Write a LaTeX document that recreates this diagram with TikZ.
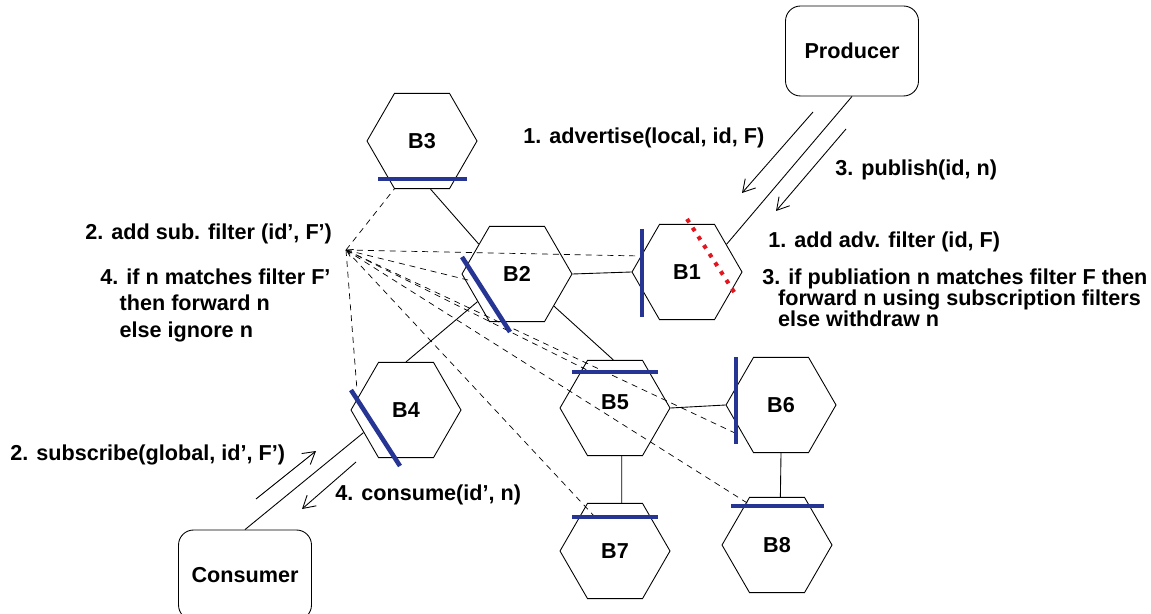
\documentclass[tikz,border=0pt]{standalone}
\usepackage{fontspec}
\setmainfont{Liberation Sans}
\usetikzlibrary{shapes.geometric,arrows.meta}
\definecolor{barblue}{RGB}{38,52,148}
\definecolor{advred}{RGB}{226,22,30}
\begin{document}
\begin{tikzpicture}[x=0.02cm,y=-0.02cm,font=\fontsize{12.3}{14}\selectfont\bfseries,
	hexa/.style={draw,line width=.5pt,regular polygon,regular polygon sides=6,minimum size=2.2cm,inner sep=0pt},
	client/.style={draw,line width=.5pt,rounded corners=.3cm,minimum width=2.66cm,minimum height=1.8cm},
	bar/.style={barblue,line width=2.6pt},
	link/.style={line width=.5pt},
	filt/.style={line width=.4pt,dash pattern=on 3.4pt off 2.8pt},
	msg/.style={line width=.5pt,-{Straight Barb[length=2.4mm,width=2.8mm]}},
	txt/.style={anchor=west,inner sep=0pt}]
	\useasboundingbox (0,0) rectangle (1151,614);
	\node[hexa] (B3) at (422,141) {B3};
	\node[hexa] (B2) at (517,274) {B2};
	\node[hexa] (B1) at (687,272) {B1};
	\node[hexa] (B4) at (406,410) {B4};
	\node[hexa] (B5) at (615,408) {\raisebox{7pt}{B5}};
	\node[hexa] (B6) at (781,405) {B6};
	\node[hexa] (B7) at (615,551) {\raisebox{-5pt}{B7}};
	\node[hexa] (B8) at (777,545) {\raisebox{-5pt}{B8}};
	\node[client] (prod) at (852,51) {Producer};
	\node[client] (cons) at (245,575) {Consumer};
	\coordinate (hub) at (346,250);
	\draw[link] (prod.south) -- (B1.35);
	\draw[link] (B1.180) -- (B2.0);
	\draw[link] (B3.-80) -- (B2.142);
	\draw[link] (B2.215) -- (B4.90);
	\draw[link] (B2.-41) -- (B5.92);
	\draw[link] (B5.0) -- (B6.180);
	\draw[link] (B5.-82) -- (B7.82);
	\draw[link] (B6.-90) -- (B8.86);
	\draw[link] (cons.north) -- (B4.208);
	\draw[msg] (813,112) -- (742,193);
	\draw[msg] (846,129) -- (776,211);
	\draw[msg] (256,499) -- (316,451);
	\draw[msg] (356,462) -- (302,509);
	\draw[filt] (hub) -- ([shift={(-27,47)}]B3.center);
	\draw[filt] (hub) -- ([shift={(-47,-16)}]B1.center);
	\draw[filt] (hub) -- ([shift={(-45,7)}]B2.center);
	\draw[filt] (hub) -- ([shift={(-49,-20)}]B4.center);
	\draw[filt,{Straight Barb[length=1.2mm,width=1.6mm]}-] (hub) -- ([shift={(-24,-36)}]B5.center);
	\draw[filt] (hub) -- ([shift={(-46,28)}]B6.center);
	\draw[filt] (hub) -- ([shift={(-20,-34)}]B7.center);
	\draw[filt] (hub) -- ([shift={(-25,-39)}]B8.center);
	\draw[bar] ([shift={(-44,38)}]B3.center) -- ([shift={(45,38)}]B3.center);
	\draw[bar] ([shift={(-55,-17)}]B2.center) -- ([shift={(-7,58)}]B2.center);
	\draw[bar] ([shift={(-45,-43)}]B1.center) -- ([shift={(-45,45)}]B1.center);
	\draw[bar] ([shift={(-55,-20)}]B4.center) -- ([shift={(-6,56)}]B4.center);
	\draw[bar] ([shift={(-43,-36)}]B5.center) -- ([shift={(43,-36)}]B5.center);
	\draw[bar] ([shift={(-45,-48)}]B6.center) -- ([shift={(-45,39)}]B6.center);
	\draw[bar] ([shift={(-43,-34)}]B7.center) -- ([shift={(43,-34)}]B7.center);
	\draw[bar] ([shift={(-46,-39)}]B8.center) -- ([shift={(47,-39)}]B8.center);
	\draw[advred,line width=2.3pt,dash pattern=on 2.3pt off 3.6pt] ([shift={(0,-53)}]B1.center) -- ([shift={(49,23)}]B1.center);
	\node[txt] (advtxt) at (523,138) {1. advertise(local, id, F)};
	\node[txt] (pubtxt) at (835,170) {3. publish(id, n)};
	\node[txt] (advflt) at (768,242) {1. add adv. filter (id, F)};
	\node[txt,align=left,font=\fontsize{12.3}{12}\selectfont\bfseries,anchor=north west] (pubflt) at (762,268) {3. if publiation n matches filter F then\\\hspace*{9pt}forward n using subscription filters\\\hspace*{9pt}else withdraw n};
	\node[txt] (subflt) at (85,234) {2. add sub. filter (id’, F’)};
	\node[txt,align=left,font=\fontsize{12.3}{15.3}\selectfont\bfseries,anchor=north west] (fwdtxt) at (100,268) {4. if n matches filter F’\\\hspace*{11pt}then forward n\\\hspace*{11pt}else ignore n};
	\node[txt] (subtxt) at (10,455) {2. subscribe(global, id’, F’)};
	\node[txt] (constxt) at (335,495) {4. consume(id’, n)};
\end{tikzpicture}
\end{document}
